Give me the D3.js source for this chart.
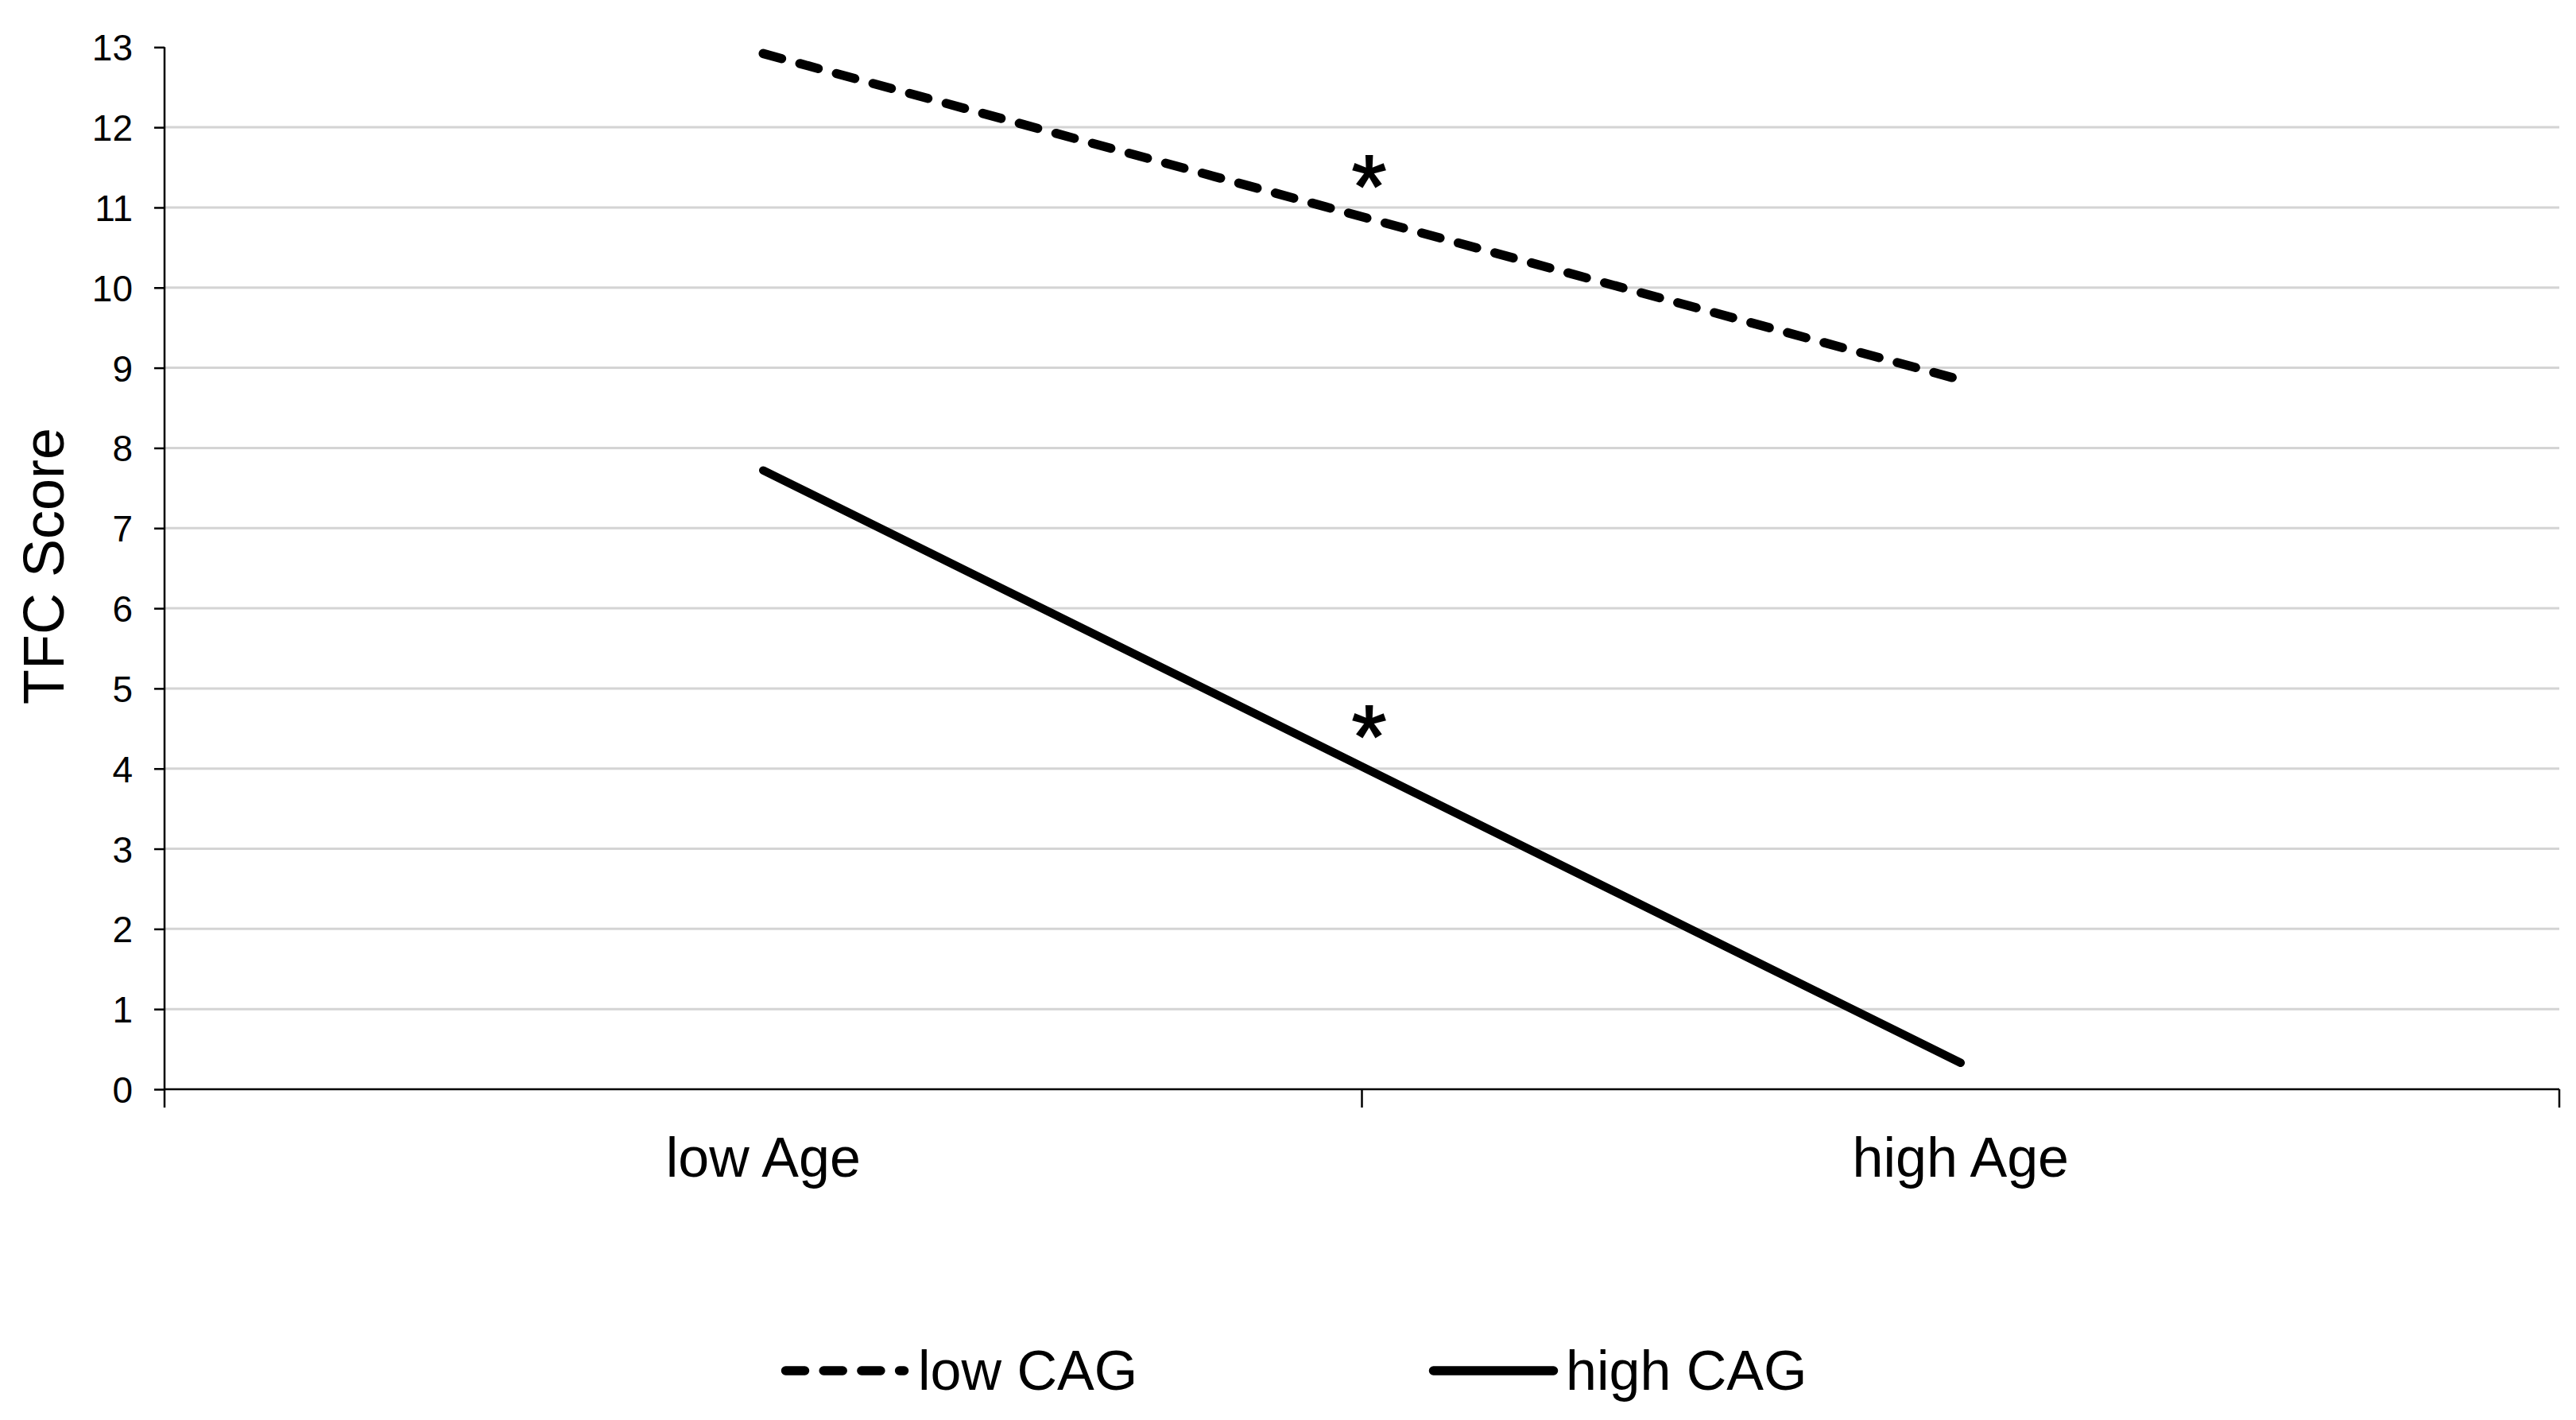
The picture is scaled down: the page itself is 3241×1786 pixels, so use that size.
<!DOCTYPE html>
<meta charset="utf-8">
<head>
<title>TFC Score by Age and CAG</title>
</head>
<style>
body { margin: 0; background: #fff; }
text { font-family: "Liberation Sans", Arial, sans-serif; fill: #000; }
</style>
<body>
<svg id="chart" width="3241" height="1786"></svg>
<script src="https://cdnjs.cloudflare.com/ajax/libs/d3/7.8.5/d3.min.js"></script>
<script>

// values
var categories = ['low Age', 'high Age'];
var seriesNames = ['low CAG', 'high CAG'];
var lowCAG  = [12.92, 8.85];
var highCAG = [7.72, 0.33];
var yTickValues = d3.range(0, 14);   // 0 .. 13
var marked = [true, true];           // asterisk on each line

// note: "top" is a read-only window global, so use plot* names
var plotLeft = 207, plotRight = 3220, plotTop = 59.3, plotBottom = 1370;

var svg = d3.select('#chart');

var x = d3.scaleBand().domain(categories).range([plotLeft, plotRight]).padding(0);
var y = d3.scaleLinear().domain([0, 13]).range([plotBottom, plotTop]);

// gridlines (none on 0 and 13)
svg.append('g')
  .selectAll('line')
  .data(yTickValues.filter(function(d) { return d > 0 && d < 13; }))
  .enter().append('line')
  .attr('x1', plotLeft).attr('x2', plotRight)
  .attr('y1', function(d) { return y(d); })
  .attr('y2', function(d) { return y(d); })
  .attr('stroke', '#d4d4d4')
  .attr('stroke-width', 3);

// y axis
var yAxis = svg.append('g')
  .attr('transform', 'translate(' + plotLeft + ',0)')
  .call(d3.axisLeft(y).tickValues(yTickValues).tickSizeInner(13).tickSizeOuter(0).tickPadding(27));
yAxis.select('.domain').remove();
yAxis.selectAll('.tick line').attr('stroke', '#000').attr('stroke-width', 2.5);
yAxis.selectAll('.tick text')
  .attr('font-size', 46)
  .attr('font-family', '"Liberation Sans", Arial, sans-serif')
  .attr('dy', '0.36em');

svg.append('line')
  .attr('x1', plotLeft).attr('x2', plotLeft)
  .attr('y1', plotTop).attr('y2', plotBottom + 23)
  .attr('stroke', '#000').attr('stroke-width', 2.5);

// x axis: line, ticks at band edges, labels at band centres
svg.append('line')
  .attr('x1', plotLeft).attr('x2', plotRight)
  .attr('y1', plotBottom).attr('y2', plotBottom)
  .attr('stroke', '#000').attr('stroke-width', 2.5);

var edges = categories.map(function(c) { return x(c); }).concat([x.range()[1]]);
svg.append('g')
  .selectAll('line')
  .data(edges.slice(1))
  .enter().append('line')
  .attr('x1', function(d) { return d; })
  .attr('x2', function(d) { return d; })
  .attr('y1', plotBottom).attr('y2', plotBottom + 23)
  .attr('stroke', '#000').attr('stroke-width', 2.5);

var xAxis = svg.append('g')
  .attr('transform', 'translate(0,' + plotBottom + ')')
  .call(d3.axisBottom(x).tickSize(0));
xAxis.select('.domain').remove();
xAxis.selectAll('.tick text')
  .attr('font-size', 70)
  .attr('font-family', '"Liberation Sans", Arial, sans-serif')
  .attr('y', 110)
  .attr('dy', 0);

// y title
svg.append('text')
  .attr('transform', 'translate(80,712) rotate(-90)')
  .attr('text-anchor', 'middle')
  .attr('font-size', 72)
  .text('TFC Score');

// series
var line = d3.line()
  .x(function(d, i) { return x(categories[i]) + x.bandwidth() / 2; })
  .y(function(d) { return y(d); });

var series = [
  { name: seriesNames[0], values: lowCAG, dash: '24,23.7' },
  { name: seriesNames[1], values: highCAG, dash: null }
];

svg.append('g')
  .selectAll('path')
  .data(series)
  .enter().append('path')
  .attr('d', function(d) { return line(d.values); })
  .attr('fill', 'none')
  .attr('stroke', '#000')
  .attr('stroke-width', function(d) { return d.dash ? 11.5 : 10.5; })
  .attr('stroke-linecap', 'round')
  .attr('stroke-dasharray', function(d) { return d.dash; });

// asterisks above the middle of each line
svg.append('g')
  .selectAll('text')
  .data(series.filter(function(d, i) { return marked[i]; }))
  .enter().append('text')
  .attr('x', x(categories[1]) + 9)
  .attr('y', function(d) { return y(d3.mean(d.values)) - 63 + 0.569 * 112; })
  .attr('text-anchor', 'middle')
  .attr('font-size', 112)
  .attr('stroke', '#000')
  .attr('stroke-width', 2)
  .text('*');

// legend
var legendX = [983, 1798];
var legendY = 1724;
var legend = svg.append('g')
  .selectAll('g')
  .data(series)
  .enter().append('g')
  .attr('transform', function(d, i) { return 'translate(' + legendX[i] + ',' + legendY + ')'; });

legend.append('line')
  .attr('x1', 5.5).attr('x2', function(d) { return d.dash ? 154.5 : 156.5; })
  .attr('y1', 0).attr('y2', 0)
  .attr('stroke', '#000')
  .attr('stroke-width', 11.5)
  .attr('stroke-linecap', 'round')
  .attr('stroke-dasharray', function(d) { return d.dash; });

legend.append('text')
  .attr('x', 172)
  .attr('y', 24)
  .attr('font-size', 70)
  .text(function(d) { return d.name; });

</script>
</body>
</html>
